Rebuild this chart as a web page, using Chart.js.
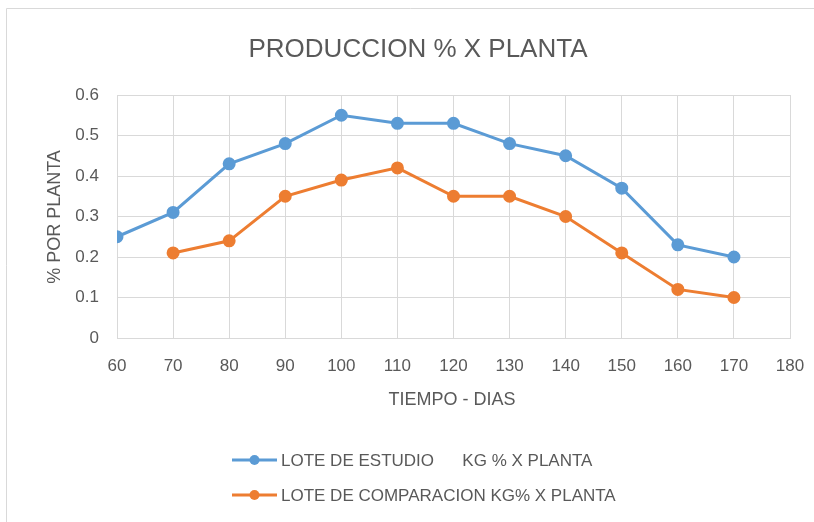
<!DOCTYPE html>
<html>
<head>
<meta charset="utf-8">
<script src="https://cdn.jsdelivr.net/npm/chart.js@4/dist/chart.umd.min.js"></script>
<style>
html,body{margin:0;padding:0;background:#fff;}
#wrap{width:814px;height:522px;position:relative;}
</style>
</head>
<body>
<div id="wrap"><canvas id="c" width="814" height="522"></canvas></div>
<script>
const days = [60, 70, 80, 90, 100, 110, 120, 130, 140, 150, 160, 170];
const loteEstudio = [0.25, 0.31, 0.43, 0.48, 0.55, 0.53, 0.53, 0.48, 0.45, 0.37, 0.23, 0.20];
const loteComparacion = [null, 0.21, 0.24, 0.35, 0.39, 0.42, 0.35, 0.35, 0.30, 0.21, 0.12, 0.10];
const seriesLabels = ["LOTE DE ESTUDIO      KG % X PLANTA", "LOTE DE COMPARACION KG% X PLANTA"];
const chartTitle = "PRODUCCION % X PLANTA";
const xTitle = "TIEMPO - DIAS";
const yTitle = "% POR PLANTA";

const FONT = "'Liberation Sans', Arial, sans-serif";
const TXT = '#595959';
const GRID = '#d9d9d9';
const BLUE = '#5B9BD5';
const ORANGE = '#ED7D31';

function toPts(ys){ const out=[]; days.forEach((d,i)=>{ if(ys[i]!==null) out.push({x:d,y:ys[i]}); }); return out; }

const decor = {
  id:'decor',
  afterDraw(chart){
    const ctx = chart.ctx;
    ctx.save();
    // frame
    ctx.strokeStyle = GRID; ctx.lineWidth = 1;
    ctx.beginPath(); ctx.moveTo(6.5, 530); ctx.lineTo(6.5, 8.5); ctx.lineTo(830, 8.5); ctx.stroke();
    // title
    ctx.fillStyle = TXT;
    ctx.textAlign = 'center'; ctx.textBaseline = 'middle';
    ctx.font = "26px " + FONT;
    ctx.fillText(chartTitle, 418, 50);
    // x title
    ctx.font = "18px " + FONT;
    ctx.fillText(xTitle, 452, 400);
    // y title
    ctx.save();
    ctx.translate(55, 217); ctx.rotate(-Math.PI/2);
    ctx.font = "18px " + FONT;
    ctx.fillText(yTitle, 0, 0);
    ctx.restore();
    // legend
    const rows = [{c:BLUE, t:seriesLabels[0], y:460},{c:ORANGE, t:seriesLabels[1], y:495}];
    ctx.textAlign = 'left';
    ctx.font = "17px " + FONT;
    rows.forEach(r=>{
      ctx.strokeStyle = r.c; ctx.lineWidth = 3;
      ctx.beginPath(); ctx.moveTo(232, r.y); ctx.lineTo(277, r.y); ctx.stroke();
      ctx.fillStyle = r.c;
      ctx.beginPath(); ctx.arc(254.5, r.y, 5, 0, Math.PI*2); ctx.fill();
      ctx.fillStyle = TXT;
      ctx.fillText(r.t, 281, r.y+1);
    });
    ctx.restore();
  }
};

new Chart(document.getElementById('c'), {
  type:'line',
  data:{
    datasets:[
      {label:seriesLabels[0], data:toPts(loteEstudio), borderColor:BLUE, backgroundColor:BLUE, borderWidth:3, pointRadius:5, pointHoverRadius:5, tension:0},
      {label:seriesLabels[1], data:toPts(loteComparacion), borderColor:ORANGE, backgroundColor:ORANGE, borderWidth:3, pointRadius:5, pointHoverRadius:5, tension:0}
    ]
  },
  options:{
    responsive:false, animation:false,
    layout:{padding:{top:95, right:24, left:0, bottom:0}},
    plugins:{legend:{display:false}, title:{display:false}, tooltip:{enabled:false}},
    scales:{
      x:{type:'linear', min:60, max:180,
        ticks:{stepSize:10, color:TXT, font:{family:FONT, size:17}, padding:18},
        grid:{color:GRID, drawTicks:false, lineWidth:1},
        border:{color:GRID},
        afterFit(s){ s.height = 522-338; s.paddingLeft = 0; s.paddingRight = 0; }
      },
      y:{min:0, max:0.6,
        ticks:{stepSize:0.1, color:TXT, font:{family:FONT, size:17}, padding:18},
        grid:{color:GRID, drawTicks:false, lineWidth:1},
        border:{color:GRID},
        afterFit(s){ s.width = 117; s.paddingTop = 0; s.paddingBottom = 0; }
      }
    }
  },
  plugins:[decor]
});
</script>
</body>
</html>
